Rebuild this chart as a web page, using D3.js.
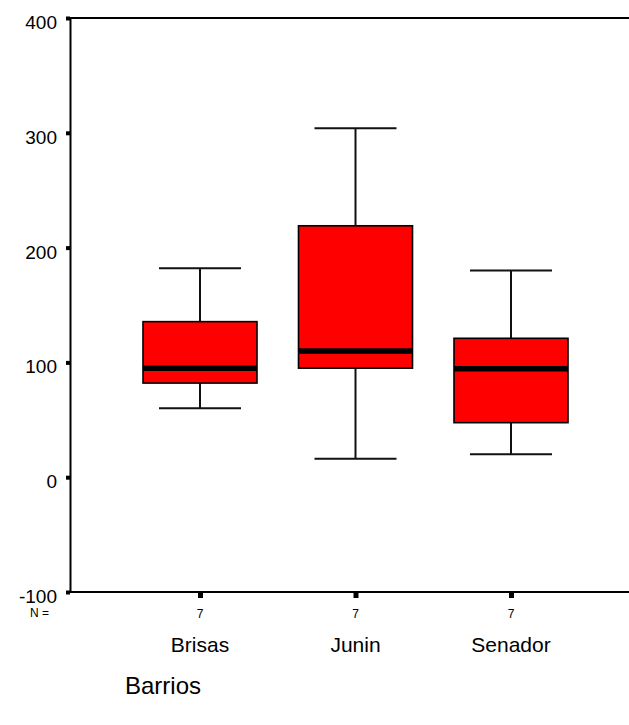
<!DOCTYPE html>
<html>
<head>
<meta charset="utf-8">
<script src="https://cdn.jsdelivr.net/npm/d3@7"></script>
<style>
  html, body { margin: 0; padding: 0; background: #fff; }
  svg { display: block; font-family: Arial, "Liberation Sans", sans-serif; }
</style>
</head>
<body>
<svg id="chart" width="629" height="725"></svg>
<script>
// ---- data ----
const categories = ["Brisas", "Junin", "Senador"];
const whiskerLow  = [60, 16, 20];
const q1          = [82, 95, 47.5];
const medians     = [95, 110, 94.5];
const q3          = [135.5, 219, 121];
const whiskerHigh = [182, 304, 180];
const counts      = [7, 7, 7];
const yTicks      = [-100, 0, 100, 200, 300, 400];
const nLabel      = "N =";
const xTitle      = "Barrios";

const svg = d3.select("#chart");
const plotLeft = 70, plotRight = 641, plotTop = 18, plotBottom = 592;

const y = d3.scaleLinear().domain([-100, 400]).range([plotBottom, plotTop]);
const x = d3.scalePoint().domain(categories).range([plotLeft, plotRight]).padding(0.836);

const boxW = 114, capW = 82;

// frame line: top border
svg.append("line")
  .attr("x1", plotLeft).attr("x2", 629).attr("y1", y(400)).attr("y2", y(400))
  .attr("stroke", "#000").attr("stroke-width", 2);

// y axis
const yAxis = svg.append("g")
  .attr("transform", `translate(${plotLeft},0)`)
  .call(d3.axisLeft(y).tickValues(yTicks).tickSize(4).tickPadding(9).tickSizeOuter(0)
        .tickFormat(d => String(d)));
yAxis.select(".domain").attr("stroke", "#000").attr("stroke-width", 2);
yAxis.selectAll(".tick line").attr("stroke", "#000").attr("stroke-width", 4);
yAxis.selectAll(".tick text")
  .attr("font-size", 19).attr("fill", "#000").attr("dy", "0.55em")
  .style("font-family", "Arial, 'Liberation Sans', sans-serif");

// x axis
const xAxis = svg.append("g")
  .attr("transform", `translate(0,${plotBottom})`)
  .call(d3.axisBottom(x).tickSize(6).tickSizeOuter(0).tickFormat(""));
xAxis.select(".domain").attr("stroke", "#000").attr("stroke-width", 2)
  .attr("d", `M${plotLeft},0H629`);
xAxis.selectAll(".tick line").attr("stroke", "#000").attr("stroke-width", 5);

// N labels
svg.append("text").attr("x", 49).attr("y", 617).attr("text-anchor", "end")
  .attr("font-size", 12).text(nLabel);
svg.selectAll("text.n").data(categories).join("text").attr("class", "n")
  .attr("x", d => x(d)).attr("y", 618).attr("text-anchor", "middle")
  .attr("font-size", 12).text((d, i) => counts[i]);

// category labels
svg.selectAll("text.cat").data(categories).join("text").attr("class", "cat")
  .attr("x", d => x(d)).attr("y", 652).attr("text-anchor", "middle")
  .attr("font-size", 21).text(d => d);

// axis title
svg.append("text").attr("x", 125).attr("y", 694).attr("font-size", 24).text(xTitle);

// boxes
const g = svg.append("g");
categories.forEach((c, i) => {
  const cx = x(c);
  g.append("line").attr("x1", cx).attr("x2", cx)
    .attr("y1", y(whiskerHigh[i])).attr("y2", y(q3[i]))
    .attr("stroke", "#111").attr("stroke-width", 2);
  g.append("line").attr("x1", cx).attr("x2", cx)
    .attr("y1", y(q1[i])).attr("y2", y(whiskerLow[i]))
    .attr("stroke", "#111").attr("stroke-width", 2);
  g.append("line").attr("x1", cx - capW / 2).attr("x2", cx + capW / 2)
    .attr("y1", y(whiskerHigh[i])).attr("y2", y(whiskerHigh[i]))
    .attr("stroke", "#111").attr("stroke-width", 2);
  g.append("line").attr("x1", cx - capW / 2).attr("x2", cx + capW / 2)
    .attr("y1", y(whiskerLow[i])).attr("y2", y(whiskerLow[i]))
    .attr("stroke", "#111").attr("stroke-width", 2);
  g.append("rect").attr("x", cx - boxW / 2).attr("width", boxW)
    .attr("y", y(q3[i])).attr("height", y(q1[i]) - y(q3[i]))
    .attr("fill", "#ff0000").attr("stroke", "#000").attr("stroke-width", 1.6);
  g.append("line").attr("x1", cx - boxW / 2).attr("x2", cx + boxW / 2)
    .attr("y1", y(medians[i])).attr("y2", y(medians[i]))
    .attr("stroke", "#000").attr("stroke-width", 5.5);
});
</script>
</body>
</html>
